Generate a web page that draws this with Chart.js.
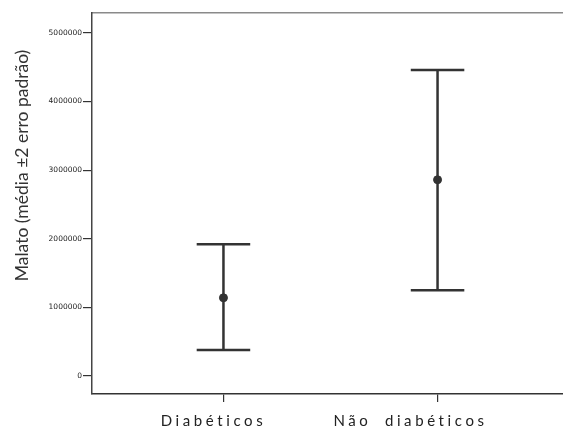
<!DOCTYPE html>
<html><head><meta charset="utf-8">
<script src="https://cdn.jsdelivr.net/npm/chart.js@4.4.1/dist/chart.umd.min.js"></script>
<style>html,body{margin:0;padding:0;overflow:hidden;background:#fff;width:563px;height:430px}
#wrap{position:absolute;left:0;top:0;width:574px;height:430px}</style>
</head><body><div id="wrap"><canvas id="c" width="574" height="430"></canvas></div>
<script>
const categories = ["Diabéticos", "Não diabéticos"];
const means = [1140000, 2860000];
const upper = [1920000, 4460000];
const lower = [380000, 1250000];
const yTicks = [0, 1000000, 2000000, 3000000, 4000000, 5000000];
const yTitle = "Malato (média ±2 erro padrão)";

const ink = '#333333';
const capHalf = 0.125;
const datasets = [];
categories.forEach((c, i) => {
  const x = i + 1;
  datasets.push({type:'line', data:[{x:x,y:lower[i]},{x:x,y:upper[i]}], borderColor:ink, borderWidth:2.5, pointRadius:0, borderCapStyle:'butt'});
  datasets.push({type:'line', data:[{x:x-capHalf,y:upper[i]},{x:x+capHalf,y:upper[i]}], borderColor:ink, borderWidth:2.5, pointRadius:0});
  datasets.push({type:'line', data:[{x:x-capHalf,y:lower[i]},{x:x+capHalf,y:lower[i]}], borderColor:ink, borderWidth:2.5, pointRadius:0});
});
datasets.push({type:'scatter', data:categories.map((c,i)=>({x:i+1,y:means[i]})), backgroundColor:ink, borderColor:ink, pointRadius:4, pointHoverRadius:4});

const labelShift = [-10, -27];
const textPlugin = {
  id:'texts',
  afterDraw(chart){
    const ctx = chart.ctx, sx = chart.scales.x, sy = chart.scales.y, ca = chart.chartArea;
    ctx.save();
    ctx.fillStyle = '#333';
    ctx.font = '17.5px Lato';
    ctx.textAlign = 'center'; ctx.textBaseline = 'middle';
    ctx.translate(22, (ca.top + ca.bottom) / 2 - 38);
    ctx.rotate(-Math.PI / 2);
    ctx.fillText(yTitle, 0, 0);
    ctx.restore();
    ctx.save();
    ctx.fillStyle = '#222';
    ctx.font = '15px Lato';
    ctx.letterSpacing = '3.6px';
    ctx.wordSpacing = '6px';
    ctx.textAlign = 'center'; ctx.textBaseline = 'middle';
    categories.forEach((c, i) => {
      ctx.fillText(c, sx.getPixelForValue(i + 1) + labelShift[i], ca.bottom + 27);
    });
    ctx.restore();
  }
};

new Chart(document.getElementById('c'), {
  data:{datasets},
  options:{
    responsive:false, animation:false, events:[],
    layout:{padding:{top:13,left:0,right:0,bottom:0}},
    plugins:{legend:{display:false}, tooltip:{enabled:false}},
    scales:{
      x:{type:'linear', position:'bottom', min:0.386, max:2.614,
        afterBuildTicks(s){ s.ticks = categories.map((c,i)=>({value:i+1})); },
        afterFit(s){ s.height = 36; },
        ticks:{callback:()=> '', color:'rgba(0,0,0,0)', autoSkip:false, maxRotation:0},
        grid:{drawOnChartArea:false, tickLength:8, color:'#333', lineWidth:1.2},
        border:{color:'#333', width:1.5}
      },
      xTop:{type:'linear', position:'top', min:0.386, max:2.614, display:true,
        afterFit(s){ s.height = 0; },
        ticks:{display:false}, grid:{display:false, drawTicks:false},
        border:{color:'#8a8a8a', width:1.5}
      },
      y:{type:'linear', min:-262000, max:5290000,
        afterBuildTicks(s){ s.ticks = yTicks.map(v=>({value:v})); },
        afterFit(s){ s.width = 92; },
        ticks:{color:'#222', padding:1, font:{family:'DejaVu Sans', size:7.5}, callback:(v)=>String(v)},
        grid:{drawOnChartArea:false, tickLength:9, color:'#333', lineWidth:1.2},
        border:{color:'#444', width:1.5},
        title:{display:false}
      }
    }
  },
  plugins:[textPlugin]
});
</script></body></html>
